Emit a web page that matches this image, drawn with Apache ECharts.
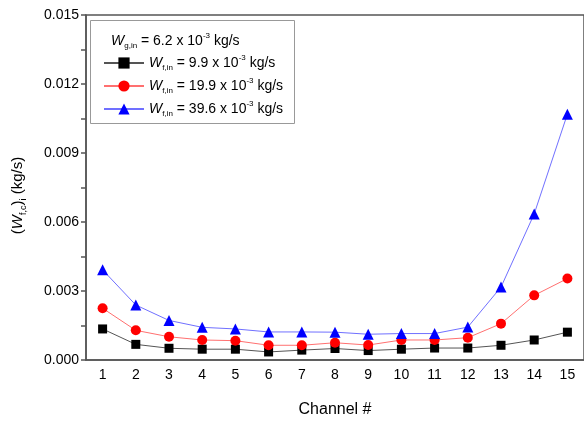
<!DOCTYPE html>
<html>
<head>
<meta charset="utf-8">
<script src="https://cdn.jsdelivr.net/npm/echarts@6/dist/echarts.min.js"></script>
<style>
  html, body { margin: 0; padding: 0; background: #fff; }
  #chart { width: 584px; height: 423px; }
</style>
</head>
<body>
<div id="chart"></div>
<script>
// channels on the x axis
var channels = ['1', '2', '3', '4', '5', '6', '7', '8', '9', '10', '11', '12', '13', '14', '15'];

// (W_f,c)_i in kg/s
var wf99 = [0.00135, 0.00068, 0.00051, 0.00047, 0.00047, 0.00035, 0.00043, 0.00050,
            0.00041, 0.00047, 0.00052, 0.00052, 0.00064, 0.00087, 0.00121];
var wf199 = [0.00225, 0.00129, 0.00101, 0.00087, 0.00084, 0.00064, 0.00064, 0.00075,
             0.00065, 0.00087, 0.00087, 0.00097, 0.00158, 0.00281, 0.00354];
var wf396 = [0.00392, 0.00239, 0.00172, 0.00142, 0.00135, 0.00122, 0.00122, 0.00121,
             0.00112, 0.00115, 0.00115, 0.00143, 0.00317, 0.00635, 0.01069];

var seriesNames = ['wf99', 'wf199', 'wf396'];
var seriesLabels = ['9.9', '19.9', '39.6'];

var yTicks = { min: 0, max: 0.015, interval: 0.003 };

var font = 'Liberation Sans, Arial, sans-serif';

var chartDom = document.getElementById('chart');
var myChart = echarts.init(chartDom);

var rich = {
  w: { fontFamily: font, fontSize: 14, fontStyle: 'italic', color: '#000', lineHeight: 18 },
  n: { fontFamily: font, fontSize: 14, color: '#000', lineHeight: 18 },
  sub: { fontFamily: font, fontSize: 8, color: '#000', lineHeight: 18, verticalAlign: 'bottom' },
  sup: { fontFamily: font, fontSize: 8, color: '#000', lineHeight: 18, verticalAlign: 'top' }
};

var yRich = {
  n: { fontFamily: font, fontSize: 15, color: '#000', lineHeight: 20 },
  w: { fontFamily: font, fontSize: 15, fontStyle: 'italic', color: '#000', lineHeight: 20 },
  sub: { fontFamily: font, fontSize: 9, color: '#000', lineHeight: 20, verticalAlign: 'bottom' }
};

function makeSeries(name, data, symbol, size, markColor, lineColor) {
  return {
    name: name,
    type: 'line',
    data: data,
    symbol: symbol,
    symbolSize: size,
    itemStyle: { color: markColor },
    lineStyle: { color: lineColor, width: 1 },
    z: 3
  };
}

var option = {
  animation: false,
  grid: {
    left: 86, top: 15, width: 500, height: 352,
    show: true, borderColor: '#555', borderWidth: 1.5, backgroundColor: '#fff'
  },
  legend: {
    orient: 'vertical',
    left: 103, top: 54,
    padding: 0,
    itemWidth: 40, itemHeight: 14, itemGap: 5,
    data: seriesNames,
    formatter: function (name) {
      var i = seriesNames.indexOf(name);
      return '{w|W}{sub|f,in}{n| = ' + seriesLabels[i] + ' x 10}{sup|-3}{n| kg/s}';
    },
    textStyle: { rich: rich }
  },
  graphic: [
    {
      type: 'rect', left: 90, top: 20,
      shape: { width: 204, height: 103 },
      style: { fill: '#fff', stroke: '#999', lineWidth: 1 },
      z: 0
    },
    {
      type: 'text', left: 111, top: 32,
      style: {
        text: '{w|W}{sub|g,in}{n| = 6.2 x 10}{sup|-3}{n| kg/s}',
        rich: rich
      },
      z: 10
    }
  ],
  xAxis: {
    type: 'category',
    data: channels,
    boundaryGap: true,
    name: 'Channel #',
    nameLocation: 'middle',
    nameGap: 42,
    nameTextStyle: { fontFamily: font, fontSize: 16, color: '#000' },
    axisLine: { lineStyle: { color: '#555', width: 1.5 } },
    axisTick: { alignWithLabel: true, length: 5, lineStyle: { color: '#555', width: 1.5 } },
    axisLabel: { fontFamily: font, fontSize: 14, color: '#000', margin: 8 },
    splitLine: { show: false }
  },
  yAxis: {
    type: 'value',
    min: yTicks.min, max: yTicks.max, interval: yTicks.interval,
    name: '{n|(}{w|W}{sub|f,c}{n|)}{sub|i}{n| (kg/s)}',
    nameLocation: 'middle',
    nameRotate: 90,
    nameGap: 58,
    nameTextStyle: { rich: yRich, padding: [0, 16, 0, 0] },
    axisLine: { show: true, lineStyle: { color: '#555', width: 1.5 } },
    axisTick: { show: true, length: 5, lineStyle: { color: '#555', width: 1.5 } },
    minorTick: { show: true, splitNumber: 2, length: 5, lineStyle: { color: '#555', width: 1.5 } },
    axisLabel: {
      fontFamily: font, fontSize: 14, color: '#000', margin: 7,
      formatter: function (v) { return v.toFixed(3); }
    },
    splitLine: { show: false }
  },
  series: [
    makeSeries('wf99', wf99, 'rect', 9, '#000', '#555'),
    makeSeries('wf199', wf199, 'circle', 10, '#ff0000', '#ff7070'),
    makeSeries('wf396', wf396, 'triangle', 11, '#0000ff', '#7070ff')
  ]
};

myChart.setOption(option);
</script>
</body>
</html>
